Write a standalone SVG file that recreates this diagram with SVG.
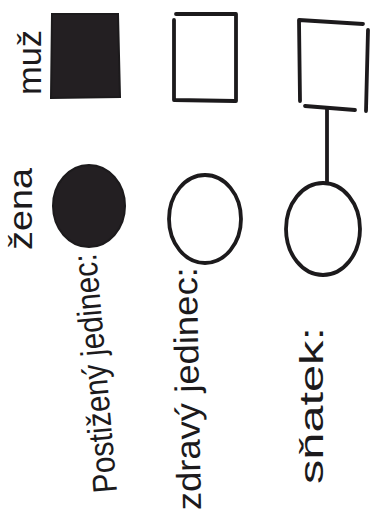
<svg xmlns="http://www.w3.org/2000/svg" width="382" height="518" viewBox="0 0 382 518">
<style>
.ink{fill:none;stroke:#1c1a1c;stroke-width:3.8;stroke-linecap:round;stroke-linejoin:round}
.fill{fill:#231f22;stroke:#1c1a1c;stroke-width:2}
.lbl{font-family:"Liberation Sans","DejaVu Sans",sans-serif;fill:#1c1a1c;font-size:34px}
</style>
<rect width="382" height="518" fill="#ffffff"/>
<g id="label-muz"><text class="lbl" font-size="29" transform="translate(41,95) rotate(-90)" textLength="65" lengthAdjust="spacingAndGlyphs">muž</text></g>
<g id="label-zena"><text class="lbl" font-size="29" transform="translate(32,250) rotate(-90)" textLength="82" lengthAdjust="spacingAndGlyphs">žena</text></g>
<g id="affected-male"><path class="fill" d="M52,14 L118,14 L120,97 L51,98 Z"/></g>
<g id="affected-female"><ellipse class="fill" cx="89" cy="206" rx="36" ry="41"/></g>
<g id="healthy-male"><path class="ink" d="M176,14 L235,14 M174,20 L174,100 L235,101 M236,14 L236,101"/></g>
<g id="healthy-female"><ellipse class="ink" cx="205" cy="219" rx="36" ry="44"/></g>
<g id="married-male"><path class="ink" d="M299,20 L363,24 M299,20 L300,101 M368,30 L366,111 M305,106 L355,110"/></g>
<g id="married-female"><ellipse class="ink" cx="323" cy="229" rx="37" ry="46"/></g>
<g id="connectors"><path class="ink" d="M327,109 L327,183"/></g>
<g id="label-affected"><text class="lbl" transform="translate(117,492) rotate(-95)" textLength="240" lengthAdjust="spacingAndGlyphs">Postižený jedinec:</text></g>
<g id="label-healthy"><text class="lbl" transform="translate(201,510) rotate(-91)" textLength="243" lengthAdjust="spacingAndGlyphs">zdravý jedinec:</text></g>
<g id="label-marriage"><text class="lbl" font-size="38" transform="translate(323,484) rotate(-90)" textLength="157" lengthAdjust="spacingAndGlyphs">sňatek:</text></g>
</svg>
